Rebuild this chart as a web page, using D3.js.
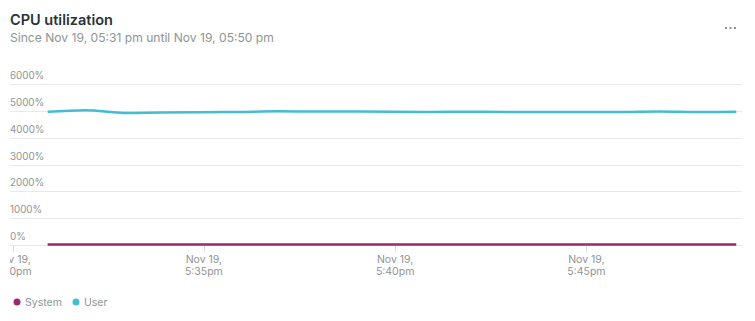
<!DOCTYPE html>
<html>
<head>
<meta charset="utf-8">
<script src="https://cdn.jsdelivr.net/npm/d3@7"></script>
<style>
  body { margin: 0; background: #fff; font-family: Inter, "Open Sans", sans-serif; }
  svg { display: block; }
</style>
</head>
<body>
<div class="chart"></div>
<script>
// Data (one point per minute, Nov 19)
const minutes = ["17:30:55", "17:31:55", "17:32:55", "17:33:55", "17:34:55", "17:35:55", "17:36:55",
    "17:37:55", "17:38:55", "17:39:55", "17:40:55", "17:41:55", "17:42:55", "17:43:55",
    "17:44:55", "17:45:55", "17:46:55", "17:47:55", "17:48:55"];
const userValues = [4965, 5025, 4920, 4935, 4945, 4960, 4980, 4975, 4975, 4965,
    4960, 4970, 4960, 4960, 4960, 4960, 4975, 4955, 4965];
const systemValues = [20, 20, 20, 20, 20, 20, 20, 20, 20, 20,
    20, 20, 20, 20, 20, 20, 20, 20, 20];
const yTicks = [0, 1000, 2000, 3000, 4000, 5000, 6000];
const xTicks = ["17:30", "17:35", "17:40", "17:45"];
const seriesNames = ["System", "User"];
const seriesColors = ["#9c2a6e", "#42bdd4"];

const width = 755, height = 321;
const parseTime = d3.timeParse("%Y-%m-%d %H:%M:%S");
const t = s => parseTime("2023-11-19 " + (s.length === 5 ? s + ":00" : s));

const svg = d3.select(".chart")
    .append("svg")
    .attr("width", width)
    .attr("height", height);

// Header
svg.append("text")
    .attr("x", 10).attr("y", 25)
    .attr("font-size", 14.5).attr("font-weight", 600)
    .attr("fill", "#293338")
    .text("CPU utilization");

svg.append("text")
    .attr("x", 10).attr("y", 42)
    .attr("font-size", 12.1)
    .attr("fill", "#8e9494")
    .text("Since Nov 19, 05:31 pm until Nov 19, 05:50 pm");

// "more" menu dots
svg.append("g").selectAll("rect")
    .data([0, 1, 2])
    .enter()
    .append("rect")
    .attr("x", d => 725 + d * 4.5)
    .attr("y", 27)
    .attr("width", 2).attr("height", 2)
    .attr("fill", "#8e9494");

// Scales
const xScale = d3.scaleTime()
    .domain([t("17:29:56"), t("17:49:04")])
    .range([10, 742]);

const yScale = d3.scaleLinear()
    .domain([0, 6000])
    .range([245, 84]);

// Clip so the first tick label gets cut at the left edge, as in the original
svg.append("defs").append("clipPath")
    .attr("id", "clip")
    .append("rect")
    .attr("x", 10).attr("y", 0)
    .attr("width", 735).attr("height", height);

// Grid lines and y labels
const grid = svg.append("g");
grid.selectAll("line")
    .data(yTicks)
    .enter()
    .append("line")
    .attr("x1", 10).attr("x2", 742)
    .attr("y1", d => Math.round(yScale(d)) + 0.5)
    .attr("y2", d => Math.round(yScale(d)) + 0.5)
    .attr("stroke", "#e8e9e9");

grid.selectAll("text")
    .data(yTicks)
    .enter()
    .append("text")
    .attr("x", 10)
    .attr("y", d => yScale(d) - 5)
    .attr("font-size", 9.8)
    .attr("fill", "#8e9494")
    .text(d => d + "%");

// X axis ticks
const xAxis = svg.append("g").attr("clip-path", "url(#clip)");
const tickDates = xTicks.map(t);
xAxis.selectAll("line")
    .data(tickDates)
    .enter()
    .append("line")
    .attr("x1", d => Math.round(xScale(d)) + 0.5)
    .attr("x2", d => Math.round(xScale(d)) + 0.5)
    .attr("y1", 246).attr("y2", 252)
    .attr("stroke", "#dcdede");

const fmtTime = d3.timeFormat("%-I:%M%p");
const labels = xAxis.selectAll("text")
    .data(tickDates)
    .enter()
    .append("text")
    .attr("x", d => xScale(d))
    .attr("y", 263)
    .attr("text-anchor", "middle")
    .attr("font-size", 10.5)
    .attr("fill", "#8e9494");
labels.append("tspan")
    .attr("x", d => xScale(d))
    .text(d => d3.timeFormat("%b %-d,")(d));
labels.append("tspan")
    .attr("x", d => xScale(d))
    .attr("dy", 12)
    .text(d => fmtTime(d).toLowerCase());

// Lines
const line = d3.line()
    .x(d => xScale(d.time))
    .y(d => yScale(d.value))
    .curve(d3.curveMonotoneX);

const series = [systemValues, userValues].map((vals, i) => ({
    name: seriesNames[i],
    color: seriesColors[i],
    points: minutes.map((m, j) => ({ time: t(m), value: vals[j] }))
}));

svg.selectAll(".line")
    .data(series)
    .enter()
    .append("path")
    .attr("class", "line")
    .attr("fill", "none")
    .attr("stroke", d => d.color)
    .attr("stroke-width", 2.5)
    .attr("d", d => line(d.points));

// Legend
const legend = svg.append("g");
const legendX = [17, 76];
legend.selectAll("circle")
    .data(series)
    .enter()
    .append("circle")
    .attr("cx", (d, i) => legendX[i])
    .attr("cy", 302)
    .attr("r", 3.5)
    .attr("fill", d => d.color);

legend.selectAll("text")
    .data(series)
    .enter()
    .append("text")
    .attr("x", (d, i) => legendX[i] + 8)
    .attr("y", 306)
    .attr("font-size", 10.5)
    .attr("fill", "#8e9494")
    .text(d => d.name);
</script>
</body>
</html>
